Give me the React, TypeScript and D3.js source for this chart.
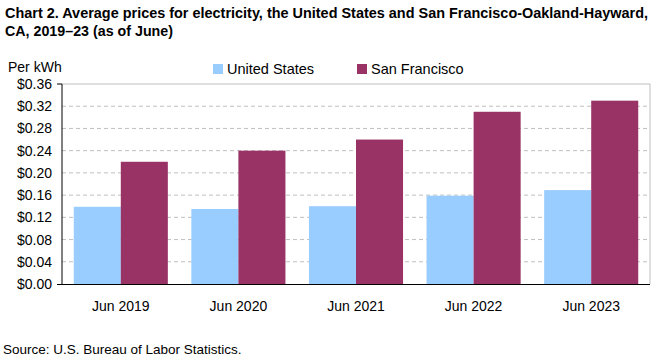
import React from "react";
import * as d3 from "d3";

const categories = ["Jun 2019", "Jun 2020", "Jun 2021", "Jun 2022", "Jun 2023"];
const seriesNames = ["United States", "San Francisco"];
const usValues = [0.139, 0.135, 0.14, 0.159, 0.169];
const sfValues = [0.22, 0.24, 0.26, 0.31, 0.33];
const yTicks = [0, 0.04, 0.08, 0.12, 0.16, 0.2, 0.24, 0.28, 0.32, 0.36];
const colors = ["#99CCFF", "#993366"];

const W = 661;
const H = 360;
const left = 62;
const right = 650;
const top = 84;
const bottom = 284;
const font = "Liberation Sans, Arial, sans-serif";

export default function App() {
  const x = d3.scaleBand<string>().domain(categories).range([left, right]).paddingInner(0.2).paddingOuter(0.1);
  const x1 = d3.scaleBand<string>().domain(seriesNames).range([0, x.bandwidth()]);
  const y = d3.scaleLinear().domain([0, 0.36]).range([bottom, top]);
  const series = [usValues, sfValues];
  const legendX = [213, 357];
  return (
    <svg width={W} height={H} style={{ position: "absolute", left: 0, top: 0, background: "#fff" }}>
      <g fontFamily={font} fill="#000">
        <text x={5} y={18} fontSize={14.2} fontWeight="bold" textLength={643} lengthAdjust="spacingAndGlyphs">
          Chart 2. Average prices for electricity, the United States and San Francisco-Oakland-Hayward,
        </text>
        <text x={5} y={36} fontSize={14.2} fontWeight="bold" textLength={168} lengthAdjust="spacingAndGlyphs">
          CA, 2019–23 (as of June)
        </text>
        <text x={8} y={72} fontSize={14}>Per kWh</text>
      </g>
      {/* legend */}
      {seriesNames.map((s, i) => (
        <g key={s}>
          <rect x={legendX[i]} y={64} width={10} height={10} fill={colors[i]} />
          <text x={legendX[i] + 14} y={74} fontSize={14.5} fontFamily={font}>{s}</text>
        </g>
      ))}
      {/* gridlines */}
      {yTicks.filter((t) => t > 0 && t < 0.36).map((t) => (
        <line key={t} x1={left} x2={right} y1={y(t)} y2={y(t)} stroke="#BFBFBF" strokeDasharray="4,3" />
      ))}
      <line x1={left} x2={right} y1={y(0.36)} y2={y(0.36)} stroke="#BFBFBF" />
      <line x1={right} x2={right} y1={top} y2={bottom} stroke="#BFBFBF" />
      {/* bars */}
      {categories.map((c, ci) => (
        <g key={c}>
          {series.map((vals, si) => (
            <rect
              key={si}
              x={(x(c) as number) + (x1(seriesNames[si]) as number)}
              y={y(vals[ci])}
              width={x1.bandwidth()}
              height={bottom - y(vals[ci])}
              fill={colors[si]}
            />
          ))}
        </g>
      ))}
      {/* axes */}
      <line x1={left} x2={left} y1={top} y2={bottom} stroke="#000" />
      <line x1={left - 5} x2={right} y1={bottom + 0.5} y2={bottom + 0.5} stroke="#000" />
      <line x1={left - 5} x2={left} y1={top} y2={top} stroke="#000" />
      {yTicks.map((t) => (
        <text key={t} x={52} y={y(t) + 5} fontSize={14} textAnchor="end" fontFamily={font}>
          {"$" + d3.format(".2f")(t)}
        </text>
      ))}
      {categories.map((c) => (
        <text key={c} x={(x(c) as number) + x.bandwidth() / 2} y={311} fontSize={14} textAnchor="middle" fontFamily={font}>
          {c}
        </text>
      ))}
      <text x={3} y={354} fontSize={13.5} fontFamily={font}>Source: U.S. Bureau of Labor Statistics.</text>
    </svg>
  );
}
